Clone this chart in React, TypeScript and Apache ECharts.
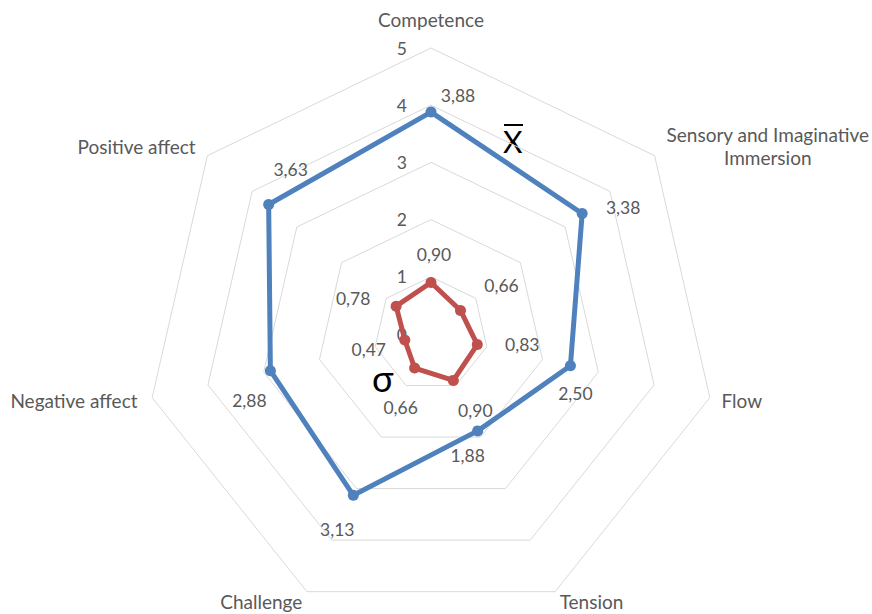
import React, { useEffect, useRef } from "react";
import * as echarts from "echarts";

// ---- data ----
const indicatorNames = [
  "Competence",
  "Sensory and Imaginative\nImmersion",
  "Flow",
  "Tension",
  "Challenge",
  "Negative affect",
  "Positive affect",
];
const meanValues = [3.88, 3.38, 2.5, 1.88, 3.13, 2.88, 3.63];
const sdValues = [0.9, 0.66, 0.83, 0.9, 0.66, 0.47, 0.78];
const axisMax = 5;
const axisSplits = 5;

// ---- styling / layout (not data) ----
const FONT = "Lato, 'Open Sans', sans-serif";
const TEXT = "#595959";
const BLUE = "#4f81bd";
const RED = "#c0504d";
const NAME_SIZE = 19;
const LABEL_SIZE = 17.5;
const nameGaps = [19, 15, 12, 10.5, 10.5, 15, 15];
const meanLabelOffsets: [number, number][] = [
  [27, -17],
  [41, -6],
  [5, 28],
  [-10, 25],
  [-16, 34],
  [-21, 30],
  [22, -35],
];
const sdLabelOffsets: [number, number][] = [
  [3, -28],
  [41, -25],
  [45, 0],
  [22, 30],
  [-14, 39],
  [-36, 10],
  [-43, -8],
];

const fmt = (v: number) => v.toFixed(2).replace(".", ",");

// ECharts radar lays indicators counter-clockwise; reorder so they run clockwise
const order = [0, 6, 5, 4, 3, 2, 1];

export default function App() {
  const ref = useRef<HTMLDivElement>(null);
  useEffect(() => {
    if (!ref.current) return;
    const chart = echarts.init(ref.current, null, { renderer: "svg" });

    const ordMean = order.map((i) => meanValues[i]);
    const ordSd = order.map((i) => sdValues[i]);

    const labelSeries: any[] = [];
    const addLabels = (vals: number[], origVals: number[], offsets: [number, number][]) => {
      order.forEach((orig, dim) => {
        labelSeries.push({
          type: "radar",
          silent: true,
          symbol: "circle",
          symbolSize: 2,
          itemStyle: { color: "rgba(0,0,0,0)" },
          lineStyle: { width: 0, opacity: 0 },
          emphasis: { disabled: true },
          z: 5,
          data: [
            {
              value: vals,
              label: {
                show: true,
                position: "inside",
                offset: offsets[orig],
                color: TEXT,
                fontFamily: FONT,
                fontSize: LABEL_SIZE,
                formatter: (p: any) =>
                  p.dimensionIndex === dim ? fmt(origVals[orig]) : "",
              },
            },
          ],
        });
      });
    };
    addLabels(ordMean, meanValues, meanLabelOffsets);
    addLabels(ordSd, sdValues, sdLabelOffsets);

    chart.setOption({
      animation: false,
      backgroundColor: "#ffffff",
      radar: {
        center: [431, 334],
        radius: 286,
        startAngle: 90,
        shape: "polygon",
        splitNumber: axisSplits,
        nameGap: 15,
        axisName: {
          color: TEXT,
          fontFamily: FONT,
          fontSize: NAME_SIZE,
          formatter: (name: string) => {
            if (name.indexOf("\n") >= 0) {
              return name
                .split("\n")
                .map((l) => "{c|" + l + "}")
                .join("\n");
            }
            return name;
          },
          rich: {
            c: { align: "center", color: TEXT, fontFamily: FONT, fontSize: NAME_SIZE, lineHeight: 23 },
          },
        },
        axisLine: { show: false },
        axisTick: { show: false },
        axisLabel: { show: false },
        splitArea: { show: false },
        splitLine: { lineStyle: { color: "#d9d9d9", width: 1 } },
        indicator: order.map((orig, i) => ({
          name: indicatorNames[orig],
          min: 0,
          max: axisMax,
          nameGap: nameGaps[orig],
          ...(i === 0
            ? {
                axisLabel: {
                  show: true,
                  color: TEXT,
                  fontFamily: FONT,
                  fontSize: LABEL_SIZE,
                  margin: 24,
                  showMinLabel: true,
                  showMaxLabel: true,
                },
              }
            : {}),
        })),
      },
      series: [
        {
          type: "radar",
          symbol: "circle",
          symbolSize: 11,
          z: 3,
          data: [
            {
              value: ordMean,
              itemStyle: { color: BLUE },
              lineStyle: { color: BLUE, width: 5 },
            },
          ],
        },
        {
          type: "radar",
          symbol: "circle",
          symbolSize: 11,
          z: 3,
          data: [
            {
              value: ordSd,
              itemStyle: { color: RED },
              lineStyle: { color: RED, width: 5 },
            },
          ],
        },
        ...labelSeries,
      ],
      graphic: [
        {
          type: "text",
          left: 503,
          top: 126,
          style: { text: "X", font: "30px " + FONT, fill: "#000" },
        },
        {
          type: "line",
          shape: { x1: 504, y1: 125, x2: 523, y2: 125 },
          style: { stroke: "#000", lineWidth: 2 },
        },
        {
          type: "text",
          left: 372,
          top: 360,
          style: { text: "σ", font: "36px " + FONT, lineHeight: 24, fill: "#000" },
        },
      ],
    });
    return () => chart.dispose();
  }, []);
  return (
    <div
      ref={ref}
      style={{ position: "fixed", left: 0, top: 0, width: 872, height: 614 }}
    />
  );
}
